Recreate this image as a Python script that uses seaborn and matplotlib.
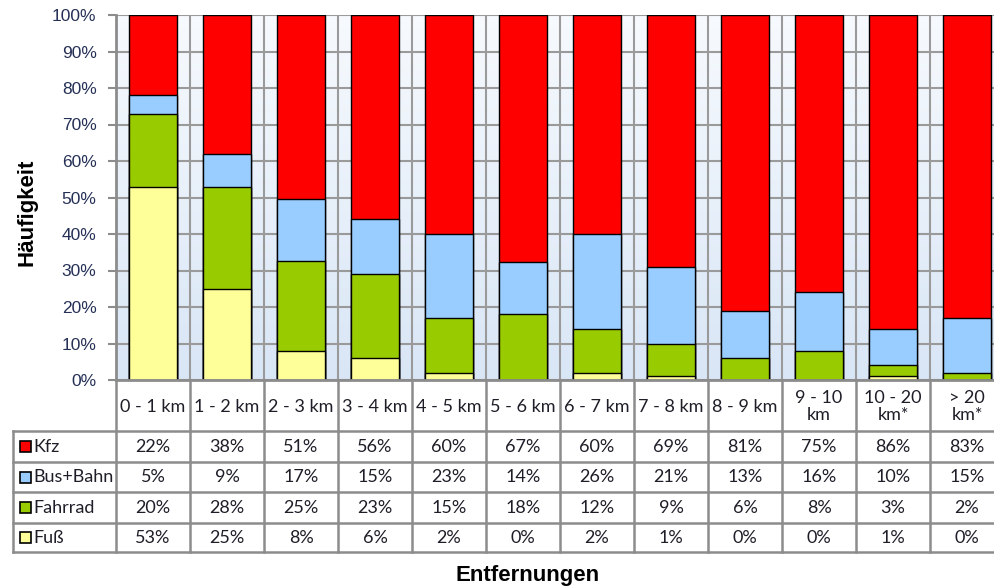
import numpy as np
import pandas as pd
import matplotlib
matplotlib.use("Agg")
import matplotlib.pyplot as plt
from matplotlib.colors import LinearSegmentedColormap
from matplotlib.patches import Rectangle
import seaborn as sns

# --- data ---------------------------------------------------------------
categories = ["0 - 1 km", "1 - 2 km", "2 - 3 km", "3 - 4 km", "4 - 5 km",
              "5 - 6 km", "6 - 7 km", "7 - 8 km", "8 - 9 km", "9 - 10\nkm",
              "10 - 20\nkm*", "> 20\nkm*"]
modes = ["Kfz", "Bus+Bahn", "Fahrrad", "Fuß"]
kfz = [22, 38, 51, 56, 60, 67, 60, 69, 81, 75, 86, 83]
bus_bahn = [5, 9, 17, 15, 23, 14, 26, 21, 13, 16, 10, 15]
fahrrad = [20, 28, 25, 23, 15, 18, 12, 9, 6, 8, 3, 2]
fuss = [53, 25, 8, 6, 2, 0, 2, 1, 0, 0, 1, 0]
y_ticks = [0, 10, 20, 30, 40, 50, 60, 70, 80, 90, 100]

colors = {"Kfz": "#FF0000", "Bus+Bahn": "#99CCFF",
          "Fahrrad": "#99CC00", "Fuß": "#FFFF99"}

values = {"Kfz": kfz, "Bus+Bahn": bus_bahn, "Fahrrad": fahrrad, "Fuß": fuss}

# 100 % stacked: shares of each column total, stacked Fuß at the bottom
raw = pd.DataFrame(values, index=categories)
share = raw.div(raw.sum(axis=1), axis=0) * 100
stack_order = ["Fuß", "Fahrrad", "Bus+Bahn", "Kfz"]
cum = share[stack_order].cumsum(axis=1)

# --- figure -------------------------------------------------------------
W, H = 994, 588
sns.set_theme(style="white")
plt.rcParams["font.family"] = ["Liberation Sans", "DejaVu Sans"]
fig = plt.figure(figsize=(W / 100, H / 100), dpi=100)


def px_rect(x0, y0, x1, y1):
    return [x0 / W, 1 - y1 / H, (x1 - x0) / W, (y1 - y0) / H]


PX0, PX1 = 116, 1004          # plot / table data columns
PY0, PY1 = 15, 380            # plot area top / bottom
ncol = len(categories)
colw = (PX1 - PX0) / ncol

ax = fig.add_axes(px_rect(PX0, PY0, PX1, PY1))

# soft vertical gradient behind the bars
grad = LinearSegmentedColormap.from_list("bg", ["#F7FAFE", "#D9E6F6"])
ax.imshow(np.linspace(0, 1, 256)[:, None], extent=[-0.5, ncol - 0.5, 0, 100],
          aspect="auto", cmap=grad, origin="upper", zorder=0)

# overlapping cumulative bars give the stacked look (top segment first)
for mode in reversed(stack_order):
    df = pd.DataFrame({"cat": categories, "val": cum[mode].values})
    sns.barplot(data=df, x="cat", y="val", order=categories, color=colors[mode],
                saturation=1, width=0.66, edgecolor="black", linewidth=1.0,
                ax=ax, zorder=2)

ax.set_xlim(-0.5, ncol - 0.5)
ax.set_ylim(0, 100)
ax.set_yticks(y_ticks)
ax.set_yticklabels([f"{t}%" for t in y_ticks], fontsize=12.5, color="#253056")
ax.set_xticks(np.arange(-0.5, ncol, 1), minor=True)
ax.set_xticks([])
ax.set_xlabel("")
ax.set_ylabel("")
ax.set_axisbelow(True)
ax.grid(axis="y", which="major", color="#9A9A9A", lw=1.5, zorder=0.5)
ax.grid(axis="x", which="minor", color="#9A9A9A", lw=1.5, zorder=0.5)
ax.tick_params(axis="y", which="major", left=True, length=6, width=1.5,
               color="#8C8C8C", pad=8)
ax.tick_params(axis="x", which="minor", bottom=False)
for side in ("top", "right"):
    ax.spines[side].set_visible(False)
for side in ("left", "bottom"):
    ax.spines[side].set_color("#8C8C8C")
    ax.spines[side].set_linewidth(2)

# --- data table ---------------------------------------------------------
TX0 = 13
row_lines = [380, 431, 462, 492, 523, 552]
tab = fig.add_axes(px_rect(TX0, row_lines[0], PX1, row_lines[-1]))
tab.set_xlim(TX0, PX1)
tab.set_ylim(row_lines[-1], row_lines[0])
tab.axis("off")

line_kw = dict(color="#8C8C8C", lw=1.8, clip_on=False, solid_capstyle="projecting")
for i, y in enumerate(row_lines[1:], start=1):
    tab.plot([TX0, PX1], [y, y], **line_kw)
tab.plot([TX0, TX0], [row_lines[1], row_lines[-1]], **line_kw)
for k in range(ncol + 1):
    x = PX0 + k * colw
    tab.plot([x, x], [row_lines[0], row_lines[-1]], **line_kw)

cell_font = dict(family=["Lato", "DejaVu Sans"], fontsize=13, color="#1E1E28")
for k, cat in enumerate(categories):
    xc = PX0 + (k + 0.5) * colw
    tab.text(xc, (row_lines[0] + row_lines[1]) / 2 + 1, cat, ha="center",
             va="center", linespacing=1.15, **cell_font)

for r, mode in enumerate(modes):
    yc = (row_lines[r + 1] + row_lines[r + 2]) / 2
    tab.add_patch(Rectangle((20, yc - 5.5), 11, 11, facecolor=colors[mode],
                            edgecolor="black", lw=1.2, clip_on=False))
    tab.text(33, yc + 0.5, mode, ha="left", va="center", **cell_font)
    for k, v in enumerate(values[mode]):
        xc = PX0 + (k + 0.5) * colw
        tab.text(xc, yc + 0.5, f"{v}%", ha="center", va="center", **cell_font)

# --- axis titles --------------------------------------------------------
fig.text(27 / W, 1 - 212 / H, "Häufigkeit", rotation=90, ha="center",
         va="center", fontsize=16, fontweight="bold", color="black")
fig.text(528 / W, 1 - 575 / H, "Entfernungen", ha="center", va="center",
         fontsize=16, fontweight="bold", color="black")

fig.savefig("out.png", dpi=100)
